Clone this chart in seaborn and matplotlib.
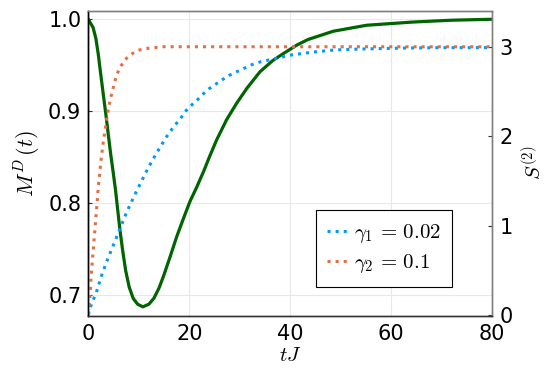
import matplotlib
matplotlib.use("Agg")
import matplotlib.pyplot as plt
import seaborn as sns
import pandas as pd

# M^D(t) (left axis)
t_m = [0, 0.3, 0.95, 1.5, 1.95, 2.4, 2.94, 3.47, 3.93, 4.4, 4.92, 5.4, 5.8, 6.25,
       6.8, 7.4, 8.1, 8.9, 9.76, 10.8, 12.0, 13.0, 14.0, 14.9, 16.2, 17.5, 18.8,
       20.1, 21.5, 22.8, 24.1, 25.4, 27.4, 29.4, 31.4, 34.0, 36.5, 38.7, 41.3,
       43.5, 48.5, 55.1, 64.3, 72, 80]
m_d = [1.0, 0.997, 0.991, 0.979, 0.963, 0.943, 0.9196, 0.897, 0.876, 0.855, 0.834,
       0.814, 0.794, 0.772, 0.749, 0.727, 0.709, 0.6967, 0.6905, 0.6876, 0.6905,
       0.697, 0.708, 0.721, 0.742, 0.7637, 0.783, 0.8017, 0.818, 0.8343, 0.852,
       0.8688, 0.891, 0.909, 0.925, 0.943, 0.955, 0.963, 0.972, 0.978, 0.987,
       0.9935, 0.997, 0.999, 1.0]

# S^(2), gamma_1 = 0.02 (right axis)
t_g1 = [0, 0.5, 1.75, 2.74, 3.87, 5.1, 6.3, 7.6, 9.0, 10.4, 11.2, 11.9, 12.7, 13.5,
        14.4, 15.2, 16.2, 17.1, 18.2, 19.1, 20.3, 21.5, 22.7, 23.9, 25.2, 26.5,
        27.9, 29.4, 30.9, 32.4, 34.0, 35.6, 37.2, 38.8, 40.4, 41.8, 44.4, 49,
        54.4, 62, 70, 80]
s_g1 = [0, 0.10, 0.28, 0.46, 0.63, 0.80, 0.97, 1.15, 1.32, 1.48, 1.57, 1.65, 1.73,
        1.81, 1.89, 1.97, 2.05, 2.12, 2.19, 2.27, 2.34, 2.40, 2.47, 2.53, 2.58,
        2.63, 2.68, 2.72, 2.76, 2.80, 2.83, 2.85, 2.87, 2.89, 2.91, 2.92, 2.94,
        2.965, 2.975, 2.985, 2.99, 2.99]

# S^(2), gamma_2 = 0.1 (right axis)
t_g2 = [0, 0.16, 0.3, 0.43, 0.5, 0.63, 0.75, 0.9, 1.03, 1.15, 1.29, 1.43, 1.55,
        1.69, 1.82, 1.95, 2.08, 2.28, 2.42, 2.62, 2.82, 3.02, 3.27, 3.53, 3.8,
        4.07, 4.4, 4.8, 5.2, 5.65, 6.3, 7.2, 8.3, 9.8, 11.4, 13.1, 14.7, 30, 50, 80]
s_g2 = [0.01, 0.10, 0.20, 0.29, 0.39, 0.48, 0.57, 0.67, 0.76, 0.85, 0.94, 1.04,
        1.13, 1.22, 1.31, 1.41, 1.50, 1.59, 1.68, 1.78, 1.87, 1.96, 2.05, 2.15,
        2.24, 2.33, 2.42, 2.51, 2.60, 2.69, 2.77, 2.85, 2.91, 2.96, 2.98, 2.99,
        3.0, 3.0, 3.0, 3.0]

labels = [r"$\gamma_1\,=\,0.02$", r"$\gamma_2\,=\,0.1$"]

sns.set_style("white")
plt.rcParams["font.family"] = ["DejaVu Sans"]
plt.rcParams["mathtext.fontset"] = "cm"
plt.rcParams["text.color"] = "black"
plt.rcParams["axes.labelcolor"] = "black"

fig = plt.figure(figsize=(5.55, 3.7), dpi=100)
ax = fig.add_axes([0.1591, 0.1468, 0.7279, 0.8235])

df_m = pd.DataFrame({"t": t_m, "M": m_d})
sns.lineplot(data=df_m, x="t", y="M", ax=ax, color="#006400", linewidth=2.3,
             sort=False, legend=False)
ax.set_xlim(0, 80)
ax.set_ylim(0.678, 1.009)
ax.set_xticks([0, 20, 40, 60, 80])
ax.set_yticks([0.7, 0.8, 0.9, 1.0])
ax.set_yticklabels(["0.7", "0.8", "0.9", "1.0"])
ax.grid(True, color="#e8e8e8", linewidth=0.8)
ax.set_axisbelow(True)
ax.tick_params(direction="in", length=3, labelsize=15, color="#333333",
               labelcolor="black", pad=5)
ax.tick_params(axis="x", pad=6)
ax.set_ylabel(r"$M^D\,(t)$", fontsize=16, labelpad=4)

ax2 = ax.twinx()
df_s = pd.DataFrame({"t": t_g1 + t_g2, "S": s_g1 + s_g2,
                     "g": [labels[0]] * len(t_g1) + [labels[1]] * len(t_g2)})
sns.lineplot(data=df_s, x="t", y="S", hue="g", ax=ax2,
             palette=["#009AFA", "#E26F46"], linewidth=2.2, linestyle=":",
             sort=False)
ax2.set_ylim(-0.008, 3.40)
ax2.set_yticks([0, 1, 2, 3])
ax2.tick_params(direction="in", length=3, labelsize=15, color="#333333",
                labelcolor="black", pad=5)
ax2.set_ylabel(r"$S^{(2)}$", fontsize=15, labelpad=6)
ax2.grid(False)
ax2.set_xlabel("")
ax.set_xlabel(r"$tJ$", fontsize=15, labelpad=1)

for a in (ax, ax2):
    a.spines["top"].set_color("#808080")
    a.spines["right"].set_color("#808080")
    a.spines["left"].set_color("#000000")
    a.spines["bottom"].set_color("#333333")
    for s in a.spines.values():
        s.set_linewidth(1.0)

leg = ax2.legend(loc="upper left", bbox_to_anchor=(315.5 / 555, 1 - 210.5 / 370),
                 bbox_transform=fig.transFigure, fontsize=15, frameon=True,
                 fancybox=False, edgecolor="black", framealpha=1,
                 handlelength=1.0, handletextpad=0.3, borderpad=0.55,
                 labelspacing=0.35, borderaxespad=0)
leg.get_frame().set_linewidth(0.8)

fig.savefig("out.png", dpi=100)
